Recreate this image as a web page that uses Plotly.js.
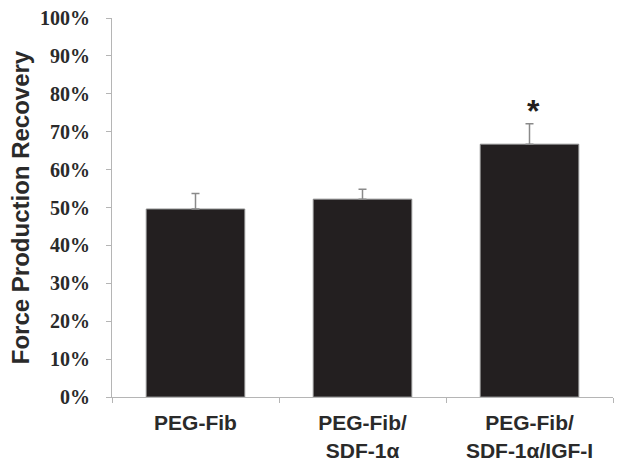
<!DOCTYPE html>
<html>
<head>
<meta charset="utf-8">
<script src="https://cdn.plot.ly/plotly-3.0.1.min.js"></script>
<style>html,body{margin:0;padding:0;background:#fff;}#chart{width:629px;height:466px;}</style>
</head>
<body>
<div id="chart"></div>
<script>
const categories = ["PEG-Fib", "PEG-Fib/<br>SDF-1α", "PEG-Fib/<br>SDF-1α/IGF-I"];
const recovery = [0.496, 0.522, 0.667];
const errorPlus = [0.041, 0.026, 0.054];
const significance = ["", "", "*"];
const yTickVals = [0, 0.1, 0.2, 0.3, 0.4, 0.5, 0.6, 0.7, 0.8, 0.9, 1.0];

const trace = {
  type: "bar",
  x: categories,
  y: recovery,
  width: 0.59,
  marker: {color: "#231f20", line: {color: "#8a8a8a", width: 1}},
  error_y: {type: "data", array: errorPlus, symmetric: false, arrayminus: [0,0,0],
            color: "#8a8a8a", thickness: 1.5, width: 4},
  hoverinfo: "skip"
};

const annotations = [];
significance.forEach((s, i) => {
  if (s) annotations.push({
    x: categories[i], y: recovery[i] + errorPlus[i], xref: "x", yref: "y",
    text: s, showarrow: false, yanchor: "bottom", yshift: -7, xshift: 4,
    font: {family: "Liberation Sans, Arial, sans-serif", size: 32, color: "#231f20", weight: "bold"}
  });
});

const layout = {
  width: 629, height: 466,
  margin: {l: 112, r: 16, t: 18, b: 69},
  paper_bgcolor: "#fff", plot_bgcolor: "#fff",
  showlegend: false,
  bargap: 0.41,
  xaxis: {
    type: "category",
    showline: true, linecolor: "#b5b5b5", linewidth: 1,
    ticks: "outside", tickson: "boundaries", ticklen: 5, tickcolor: "#b5b5b5",
    showgrid: false, zeroline: false,
    tickfont: {family: "Liberation Sans, Arial, sans-serif", size: 21, color: "#2a2a2a", weight: "bold"},
    ticklabelstandoff: 7
  },
  yaxis: {
    range: [0, 1],
    tickvals: yTickVals, tickformat: ".0%",
    showline: true, linecolor: "#b5b5b5", linewidth: 1,
    ticks: "outside", ticklen: 5, tickcolor: "#b5b5b5",
    showgrid: false, zeroline: false,
    tickfont: {family: "Liberation Serif, Times New Roman, serif", size: 20, color: "#2a2a2a", weight: "bold"},
    ticklabelstandoff: 12,
    title: {text: "Force Production Recovery", standoff: 3,
            font: {family: "Liberation Sans, Arial, sans-serif", size: 24, color: "#2a2a2a", weight: "bold"}}
  },
  annotations: annotations
};

Plotly.newPlot("chart", [trace], layout, {staticPlot: true, displayModeBar: false});
</script>
</body>
</html>
